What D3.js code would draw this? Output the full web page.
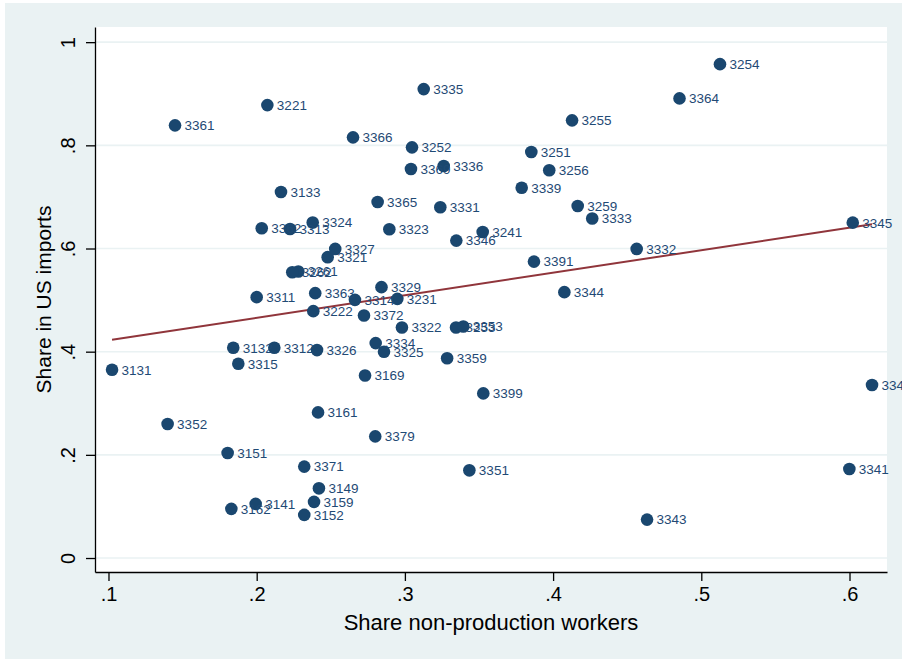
<!DOCTYPE html>
<html>
<head>
<meta charset="utf-8">
<script src="https://cdn.jsdelivr.net/npm/d3@7"></script>
<style>
  body { margin: 0; background: #ffffff; }
  svg text { font-family: "Liberation Sans", Arial, Helvetica, sans-serif; }
</style>
</head>
<body>
<div id="graph"></div>
<script>
// Industry codes (NAICS 4 digits)
const codes = [
  "3131", "3132", "3133", "3141", "3149", "3151", "3152", "3159", "3161", "3162",
  "3169", "3221", "3222", "3231", "3241", "3251", "3252", "3253", "3254", "3255",
  "3256", "3259", "3261", "3262", "3311", "3312", "3313", "3362", "3314", "3315",
  "3321", "3322", "3323", "3324", "3325", "3326", "3327", "3329", "3331", "3332",
  "3333", "3334", "3335", "3336", "3339", "3341", "3342", "3343", "3344", "3345",
  "3346", "3351", "3352", "3353", "3359", "3361", "3363", "3364", "3365", "3366",
  "3369", "3371", "3372", "3379", "3391", "3399"
];

// Share non-production workers
const shareNonProd = [
  0.1024, 0.1842, 0.2164, 0.1993, 0.2420, 0.1804, 0.2321, 0.2387, 0.2414, 0.1829,
  0.2731, 0.2072, 0.2382, 0.2949, 0.3525, 0.3853, 0.3048, 0.3345, 0.5126, 0.4128,
  0.3974, 0.4166, 0.2281, 0.2240, 0.2000, 0.2119, 0.2225, 0.2034, 0.2663, 0.1876,
  0.2479, 0.2980, 0.2895, 0.2378, 0.2859, 0.2407, 0.2530, 0.2842, 0.3239, 0.4564,
  0.4264, 0.2803, 0.3127, 0.3262, 0.3788, 0.5999, 0.6152, 0.4634, 0.4076, 0.6022,
  0.3347, 0.3435, 0.1399, 0.3394, 0.3285, 0.1449, 0.2395, 0.4853, 0.2816, 0.2650,
  0.3041, 0.2321, 0.2724, 0.2800, 0.3871, 0.3529
];

// Share in US imports
const shareImports = [
  0.365, 0.4075, 0.7096, 0.1049, 0.1351, 0.2037, 0.0836, 0.1088, 0.2823, 0.0953,
  0.3539, 0.878, 0.4786, 0.5024, 0.6321, 0.787, 0.7961, 0.4469, 0.9574, 0.8484,
  0.7516, 0.6825, 0.5553, 0.5541, 0.5057, 0.4075, 0.6379, 0.6393, 0.5005, 0.3766,
  0.5832, 0.4469, 0.6374, 0.6505, 0.3998, 0.4031, 0.5992, 0.5251, 0.6800, 0.5992,
  0.6583, 0.4166, 0.909, 0.7599, 0.7179, 0.1727, 0.3353, 0.0745, 0.5154, 0.6501,
  0.6153, 0.170, 0.2598, 0.4488, 0.3872, 0.8387, 0.5135, 0.891, 0.6902, 0.8155,
  0.7541, 0.1772, 0.4701, 0.2358, 0.5746, 0.3191
];

// Linear fit end points
const fitX = [0.1024, 0.6152];
const fitY = [0.423, 0.647];

const xTicks = [0.1, 0.2, 0.3, 0.4, 0.5, 0.6];
const xTickLabels = [".1", ".2", ".3", ".4", ".5", ".6"];
const yTicks = [0, 0.2, 0.4, 0.6, 0.8, 1];
const yTickLabels = ["0", ".2", ".4", ".6", ".8", "1"];

const data = codes.map((c, i) => ({ code: c, x: shareNonProd[i], y: shareImports[i] }));

const svgWidth = 902;
const svgHeight = 659;
const plot = { left: 95, right: 887, top: 27, bottom: 572 };

const svg = d3.select("#graph")
  .append("svg")
  .attr("width", svgWidth)
  .attr("height", svgHeight);

// fond du graphique
svg.append("rect")
  .attr("x", 5).attr("y", 3)
  .attr("width", svgWidth - 5).attr("height", svgHeight - 3)
  .attr("fill", "#eaf2f3");

svg.append("rect")
  .attr("x", plot.left).attr("y", plot.top)
  .attr("width", plot.right - plot.left).attr("height", plot.bottom - plot.top)
  .attr("fill", "#ffffff");

const xScale = d3.scaleLinear()
  .domain([0.0909, 0.6253])
  .range([plot.left, plot.right]);

const yScale = d3.scaleLinear()
  .domain([-0.0271, 1.0294])
  .range([plot.bottom, plot.top]);

// gridlines
svg.append("g")
  .selectAll("line")
  .data(yTicks)
  .enter().append("line")
  .attr("x1", plot.left).attr("x2", plot.right)
  .attr("y1", d => yScale(d)).attr("y2", d => yScale(d))
  .attr("stroke", "#eaf2f3")
  .attr("stroke-width", 1.6);

// axes
const xAxis = svg.append("g")
  .attr("transform", `translate(0,${plot.bottom})`)
  .call(d3.axisBottom(xScale)
    .tickValues(xTicks)
    .tickFormat((d, i) => xTickLabels[i])
    .tickSize(9)
    .tickSizeOuter(0)
    .tickPadding(6));

xAxis.selectAll("text")
  .attr("font-size", 20)
  .attr("fill", "#000");

const yAxis = svg.append("g")
  .attr("transform", `translate(${plot.left},0)`)
  .call(d3.axisLeft(yScale)
    .tickValues(yTicks)
    .tickFormat((d, i) => yTickLabels[i])
    .tickSize(9)
    .tickSizeOuter(0));

yAxis.selectAll("text")
  .attr("font-size", 20)
  .attr("fill", "#000")
  .attr("transform", "rotate(-90)")
  .attr("x", 0)
  .attr("y", -20)
  .attr("dy", 0)
  .attr("text-anchor", "middle");

svg.selectAll(".domain, .tick line")
  .attr("stroke", "#000")
  .attr("stroke-width", 1.3);

// fit line
const line = d3.line()
  .x(d => xScale(d[0]))
  .y(d => yScale(d[1]));

svg.append("path")
  .datum(fitX.map((v, i) => [v, fitY[i]]))
  .attr("fill", "none")
  .attr("stroke", "#90353b")
  .attr("stroke-width", 2)
  .attr("d", line);

// points
svg.selectAll(".dot")
  .data(data)
  .enter().append("circle")
  .attr("class", "dot")
  .attr("cx", d => xScale(d.x))
  .attr("cy", d => yScale(d.y))
  .attr("r", 6.3)
  .attr("fill", "#1a476f");

svg.selectAll(".lbl")
  .data(data)
  .enter().append("text")
  .attr("class", "lbl")
  .attr("x", d => xScale(d.x) + 9.5)
  .attr("y", d => yScale(d.y))
  .attr("dy", "0.36em")
  .attr("font-size", 13.5)
  .attr("fill", "#1f4a75")
  .text(d => d.code);

// titres des axes
svg.append("text")
  .attr("x", (plot.left + plot.right) / 2)
  .attr("y", 630)
  .attr("text-anchor", "middle")
  .attr("font-size", 22)
  .text("Share non-production workers");

svg.append("text")
  .attr("transform", "rotate(-90)")
  .attr("x", -(plot.top + plot.bottom) / 2)
  .attr("y", 51)
  .attr("text-anchor", "middle")
  .attr("font-size", 21)
  .text("Share in US imports");
</script>
</body>
</html>
